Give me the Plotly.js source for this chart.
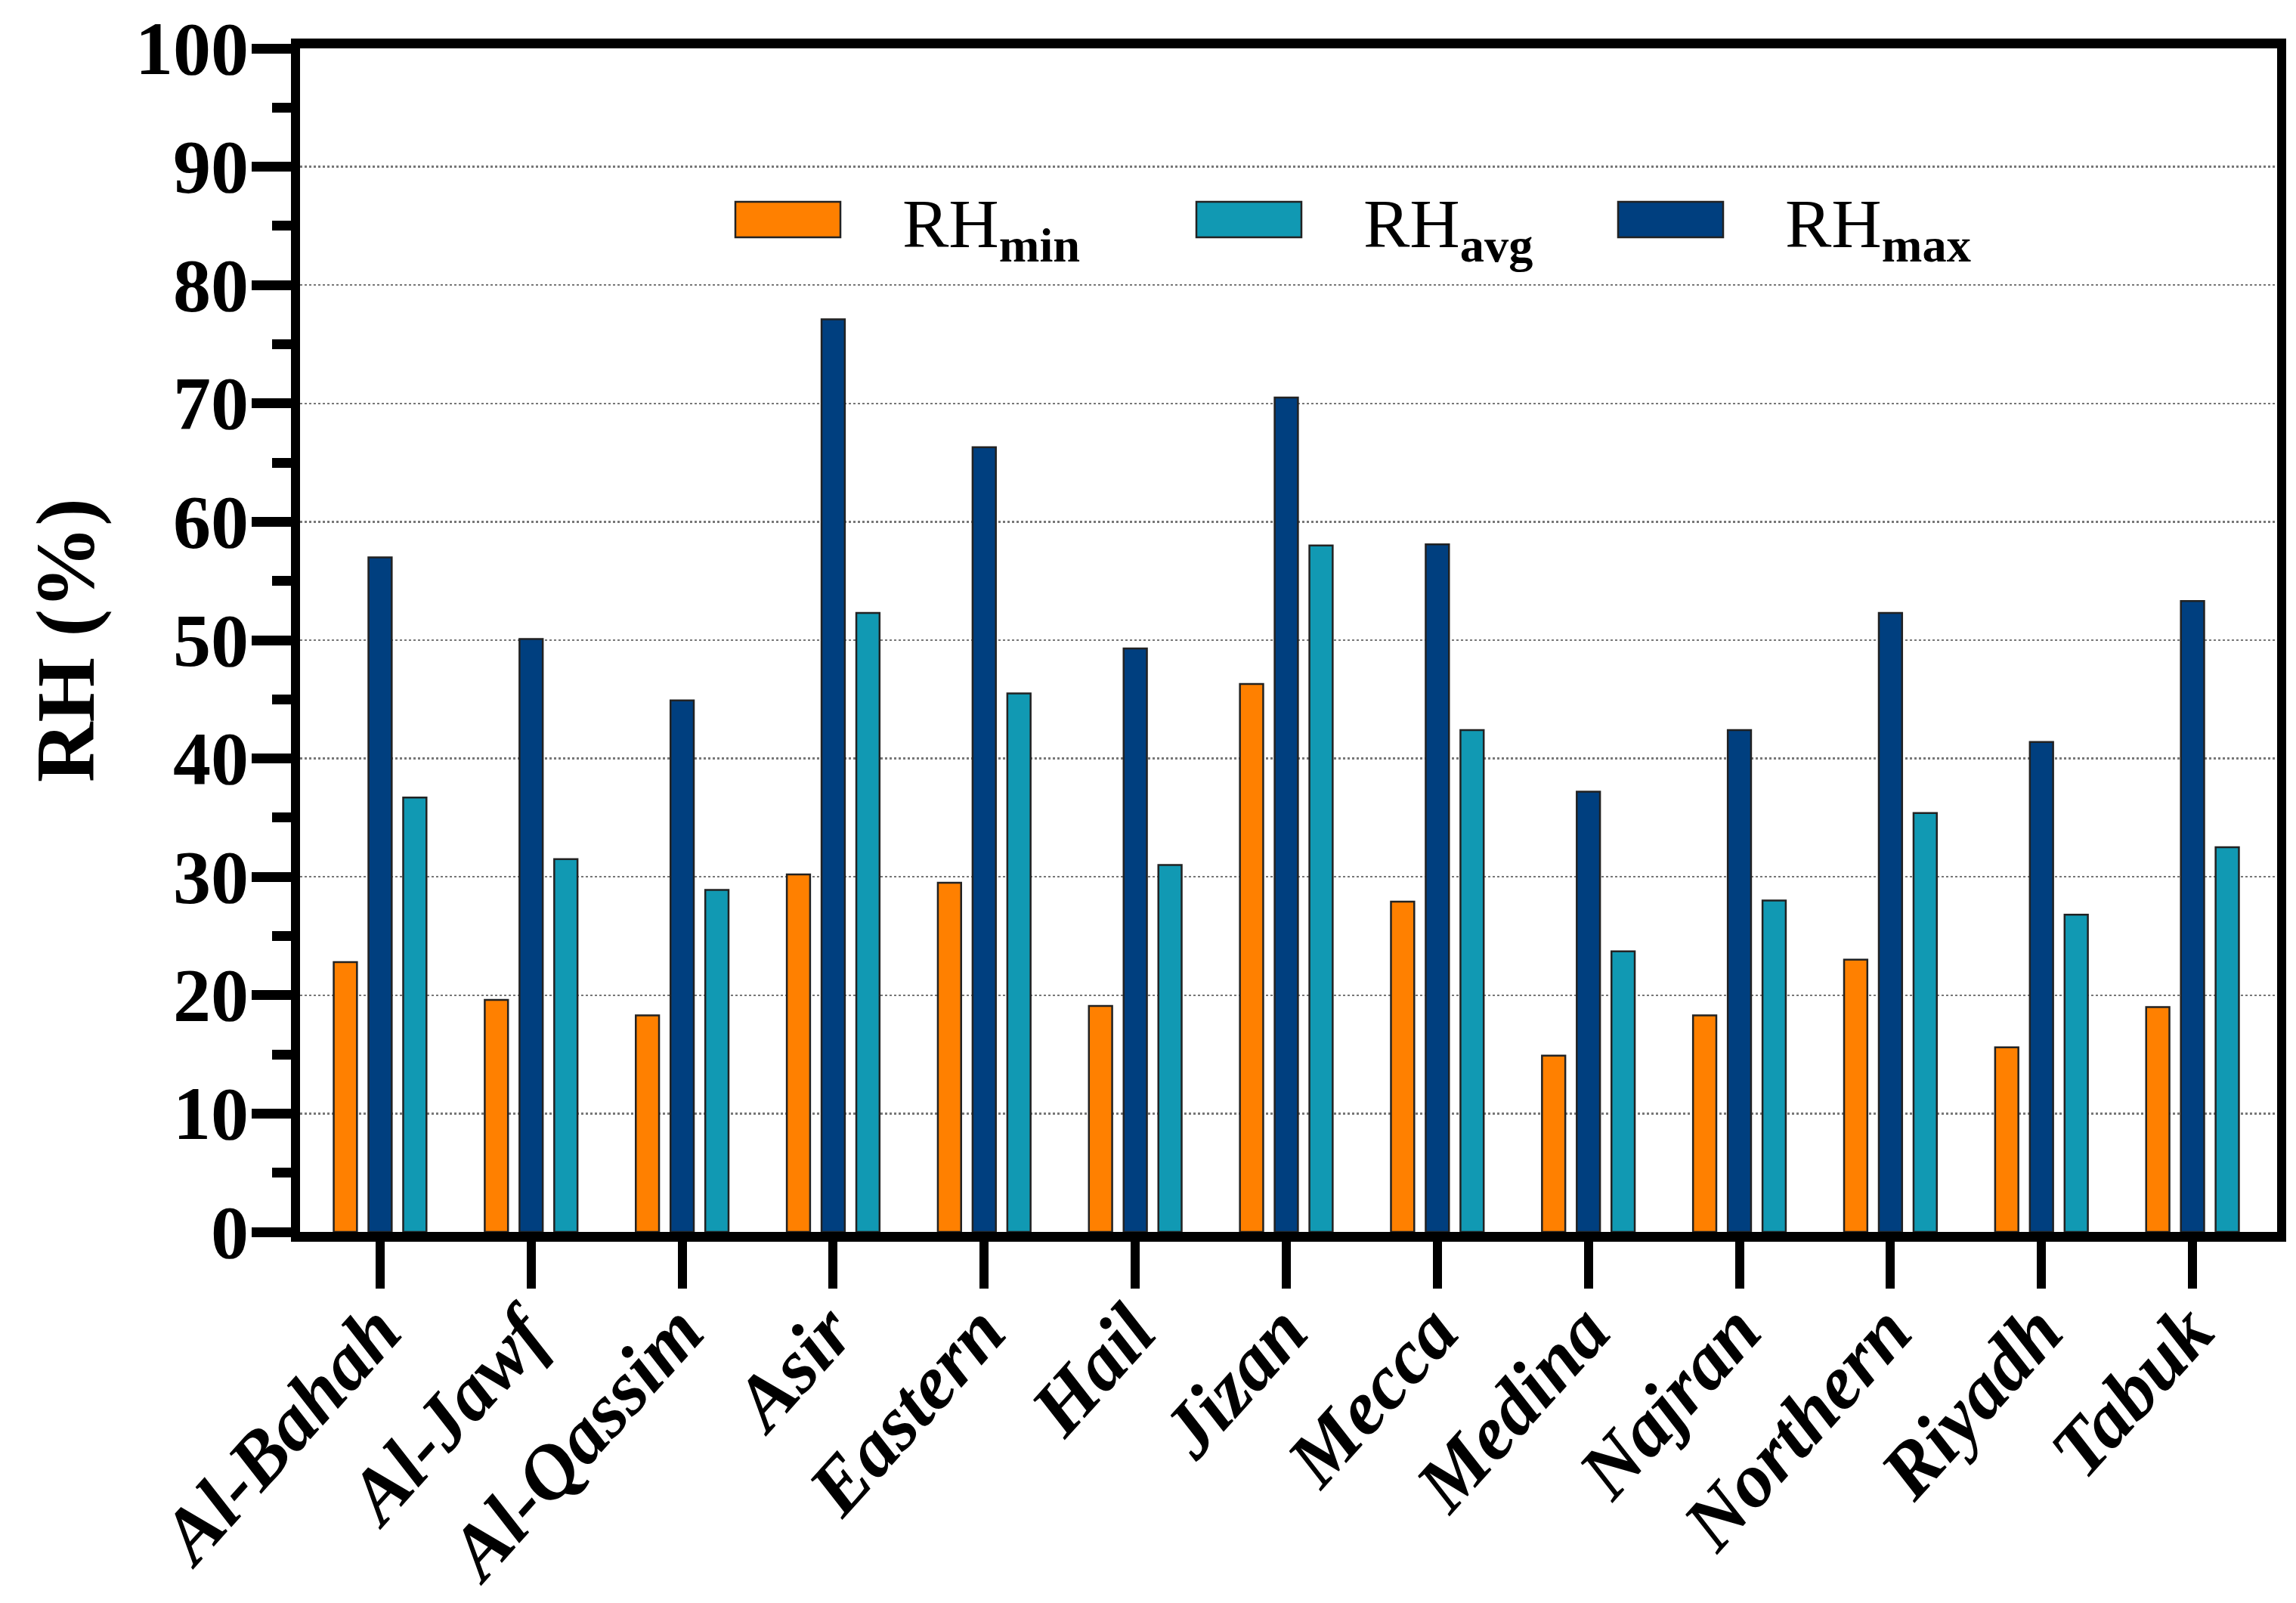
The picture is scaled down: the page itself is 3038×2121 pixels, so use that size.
<!DOCTYPE html>
<html>
<head>
<meta charset="utf-8">
<script src="https://cdn.plot.ly/plotly-3.0.1.min.js"></script>
<style>
html,body{margin:0;padding:0;background:#fff;}
#chart{width:3038px;height:2121px;}
</style>
</head>
<body>
<div id="chart"></div>
<script>
const regions = ["Al-Bahah","Al-Jawf","Al-Qassim","Asir","Eastern","Hail","Jizan","Mecca","Medina","Najran","Northern","Riyadh","Tabuk"];
const rhMin = [22.8,19.6,18.3,30.2,29.5,19.1,46.3,27.9,14.9,18.3,23.0,15.6,19.0];
const rhMax = [57.0,50.1,44.9,77.1,66.3,49.3,70.5,58.1,37.2,42.4,52.3,41.4,53.3];
const rhAvg = [36.7,31.5,28.9,52.3,45.5,31.0,58.0,42.4,23.7,28.0,35.4,26.8,32.5];
const seriesNames = ["RH<sub><b>min</b></sub>","RH<sub><b>avg</b></sub>","RH<sub><b>max</b></sub>"];
const yTitle = "<b>RH (%)</b>";
const colMin = "#FF8000", colAvg = "#1199B3", colMax = "#003F7F";
const yTicks = [0,10,20,30,40,50,60,70,80,90,100];
const yMinorTicks = [5,15,25,35,45,55,65,75,85,95];

const serif = "Liberation Serif";
const lineStyle = {color:"#222", width:2.5};
function barTrace(name, vals, color){
  return {type:"bar", x:regions, y:vals, name:name, marker:{color:color, line:lineStyle}, showlegend:false};
}
const data = [barTrace("RHmin", rhMin, colMin), barTrace("RHmax", rhMax, colMax), barTrace("RHavg", rhAvg, colAvg)];

const W = 3038, H = 2121, PL = 397, PR = 3013, PT = 64, PB = 1630;
const shapes = [], annotations = [];

// legend (large swatches as in the reference)
const legendItems = [[colMin, seriesNames[0]],[colAvg, seriesNames[1]],[colMax, seriesNames[2]]];
const swX = [973, 1583, 2141], swW = 139, swY0 = 267, swY1 = 314;
legendItems.forEach((it,i)=>{
  shapes.push({type:"rect", xref:"paper", yref:"paper",
    x0:(swX[i]-PL)/(PR-PL), x1:(swX[i]+swW-PL)/(PR-PL),
    y0:(PB-swY1)/(PB-PT), y1:(PB-swY0)/(PB-PT),
    fillcolor:it[0], line:{color:"#222", width:2.5}});
  annotations.push({xref:"paper", yref:"paper", x:(swX[i]+swW+80-PL)/(PR-PL), y:(PB-302)/(PB-PT),
    xanchor:"left", yanchor:"middle", showarrow:false, text:it[1],
    font:{family:serif, size:92, color:"#000"}});
});

// y tick labels (placed on the y scale)
yTicks.forEach(v=>{
  annotations.push({xref:"paper", yref:"y", x:0, y:v, xanchor:"right", yanchor:"middle",
    xshift:-66, showarrow:false, text:"<b>"+v+"</b>",
    font:{family:serif, size:100, color:"#000"}});
});
// x tick labels (placed on the category scale)
regions.forEach(r=>{
  annotations.push({xref:"x", yref:"paper", x:r, y:0, xanchor:"right", yanchor:"top",
    xshift:52, yshift:-72, textangle:-48, showarrow:false, text:"<b><i>"+r+"</i></b>",
    font:{family:serif, size:102, color:"#000"}});
});
// y axis title
annotations.push({xref:"paper", yref:"paper", x:0, y:0.5, xanchor:"center", yanchor:"middle",
  xshift:87-PL, textangle:-90, showarrow:false, text:yTitle,
  font:{family:serif, size:110, color:"#000"}});

const layout = {
  width:W, height:H,
  paper_bgcolor:"#fff", plot_bgcolor:"#fff",
  margin:{l:PL, r:W-PR, t:PT, b:H-PB},
  barmode:"group", bargap:0.31, bargroupgap:0.33,
  showlegend:false,
  font:{family:serif},
  xaxis:{
    type:"category", range:[-0.53,12.56],
    showline:true, linecolor:"#000", linewidth:13, mirror:true,
    ticks:"outside", ticklen:62, tickwidth:12, tickcolor:"#000",
    showticklabels:false,
    showgrid:false, zeroline:false
  },
  yaxis:{
    range:[0,100], tickvals:yTicks,
    showline:true, linecolor:"#000", linewidth:12, mirror:true,
    ticks:"outside", ticklen:52, tickwidth:13, tickcolor:"#000",
    minor:{tickvals:yMinorTicks, ticks:"outside", ticklen:25, tickwidth:13, tickcolor:"#000", showgrid:false},
    showticklabels:false,
    showgrid:true, gridcolor:"#777", gridwidth:2.5, griddash:"dot",
    zeroline:false
  },
  shapes:shapes, annotations:annotations
};
Plotly.newPlot("chart", data, layout, {staticPlot:true});
</script>
</body>
</html>
